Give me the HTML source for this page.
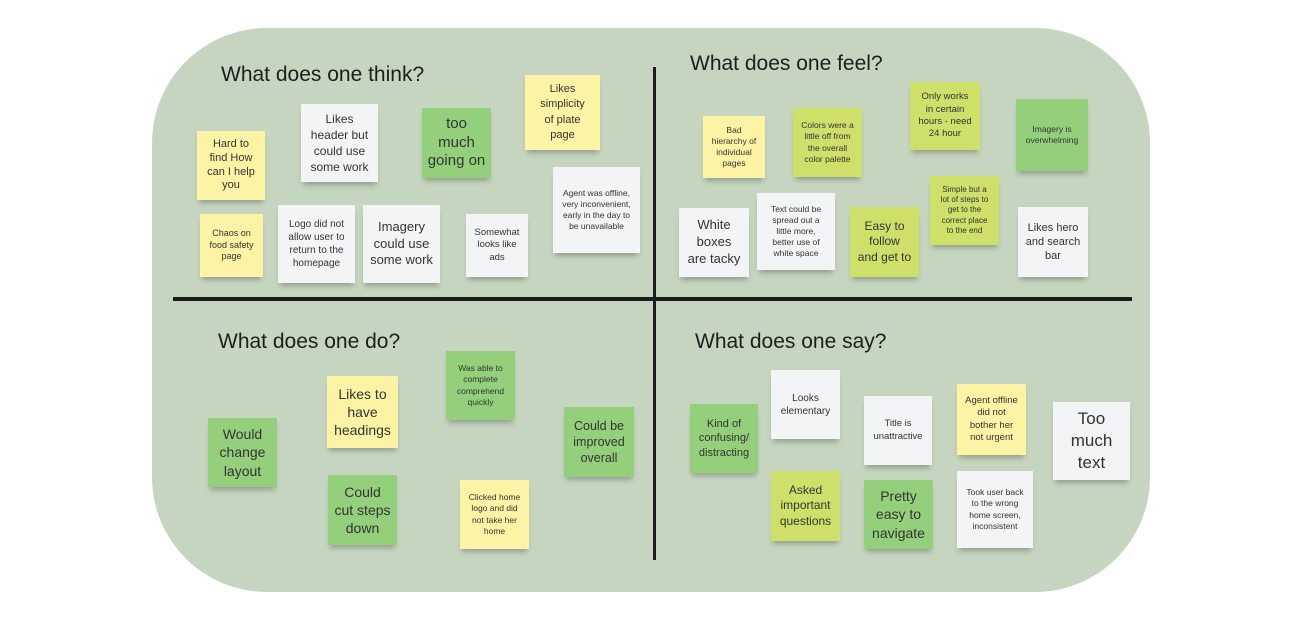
<!DOCTYPE html>
<html><head><meta charset="utf-8"><style>
body{margin:0;width:1300px;height:626px;background:#fff;position:relative;overflow:hidden;font-family:"Liberation Sans",sans-serif}
.bg{position:absolute;left:152px;top:28px;width:998px;height:564px;background:#c5d5bf;border-radius:115px}
.h{position:absolute;height:4px;background:#1c1c1c}
.v{position:absolute;width:3px;background:#1c1c1c}
.t{position:absolute;font-size:21px;color:#1e1e1e}
.s{position:absolute;display:flex;align-items:center;justify-content:center;text-align:center;color:#333;box-shadow:0 5px 5px -2px rgba(0,0,0,.25);line-height:1.3;box-sizing:border-box;padding:2px;white-space:nowrap}
.y{background:#fcf4a4}.w{background:#f3f4f6}.g{background:#94d07c}.l{background:#cee06a}
.L{font-size:14px}.M{font-size:11px}.S{font-size:8.5px}
</style></head><body>
<div class="bg"></div>
<div class="h" style="left:173px;top:297px;width:959px"></div>
<div class="v" style="left:653px;top:67px;height:493px"></div>
<div class="t" style="left:221px;top:63px">What does one think?</div>
<div class="t" style="left:690px;top:52px">What does one feel?</div>
<div class="t" style="left:218px;top:330px">What does one do?</div>
<div class="t" style="left:695px;top:330px">What does one say?</div>

<div class="s y M" style="left:197px;top:131px;width:68px;height:69px;line-height:1.25">Hard to<br>find How<br>can I help<br>you</div>
<div class="s w M" style="left:301px;top:104px;width:77px;height:78px;font-size:12px;line-height:1.35">Likes<br>header but<br>could use<br>some work</div>
<div class="s g L" style="left:422px;top:108px;width:69px;height:70px;font-size:15px;line-height:1.25">too<br>much<br>going on</div>
<div class="s y M" style="left:525px;top:75px;width:75px;height:75px;line-height:1.4">Likes<br>simplicity<br>of plate<br>page</div>
<div class="s w S" style="left:553px;top:167px;width:87px;height:86px">Agent was offline,<br>very inconvenient,<br>early in the day to<br>be unavailable</div>
<div class="s y S" style="left:200px;top:214px;width:63px;height:63px;font-size:9px">Chaos on<br>food safety<br>page</div>
<div class="s w S" style="left:278px;top:205px;width:77px;height:78px;font-size:10px">Logo did not<br>allow user to<br>return to the<br>homepage</div>
<div class="s w M" style="left:363px;top:205px;width:77px;height:78px;font-size:13px">Imagery<br>could use<br>some work</div>
<div class="s w S" style="left:466px;top:214px;width:62px;height:63px;font-size:9.5px">Somewhat<br>looks like<br>ads</div>

<div class="s y S" style="left:703px;top:116px;width:62px;height:62px">Bad<br>hierarchy of<br>individual<br>pages</div>
<div class="s l S" style="left:793px;top:108px;width:69px;height:69px">Colors were a<br>little off from<br>the overall<br>color palette</div>
<div class="s l S" style="left:910px;top:82px;width:70px;height:68px;font-size:9.5px">Only works<br>in certain<br>hours - need<br>24 hour</div>
<div class="s g S" style="left:1016px;top:99px;width:72px;height:72px">Imagery is<br>overwhelming</div>
<div class="s w L" style="left:679px;top:208px;width:70px;height:69px;font-size:13px">White<br>boxes<br>are tacky</div>
<div class="s w S" style="left:757px;top:193px;width:78px;height:77px">Text could be<br>spread out a<br>little more,<br>better use of<br>white space</div>
<div class="s l M" style="left:850px;top:207px;width:69px;height:70px;font-size:12px">Easy to<br>follow<br>and get to</div>
<div class="s l S" style="left:930px;top:176px;width:69px;height:69px;font-size:8px">Simple but a<br>lot of steps to<br>get to the<br>correct place<br>to the end</div>
<div class="s w M" style="left:1018px;top:207px;width:70px;height:70px">Likes hero<br>and search<br>bar</div>

<div class="s g L" style="left:208px;top:418px;width:69px;height:69px">Would<br>change<br>layout</div>
<div class="s y L" style="left:327px;top:376px;width:71px;height:72px">Likes to<br>have<br>headings</div>
<div class="s g S" style="left:446px;top:351px;width:69px;height:69px">Was able to<br>complete<br>comprehend<br>quickly</div>
<div class="s g L" style="left:328px;top:475px;width:69px;height:70px">Could<br>cut steps<br>down</div>
<div class="s y S" style="left:460px;top:480px;width:69px;height:69px">Clicked home<br>logo and did<br>not take her<br>home</div>
<div class="s g M" style="left:564px;top:407px;width:70px;height:70px;font-size:12.5px">Could be<br>improved<br>overall</div>

<div class="s g M" style="left:690px;top:404px;width:68px;height:69px">Kind of<br>confusing/<br>distracting</div>
<div class="s w S" style="left:771px;top:370px;width:69px;height:69px;font-size:10px">Looks<br>elementary</div>
<div class="s w S" style="left:864px;top:396px;width:68px;height:69px;font-size:9.5px">Title is<br>unattractive</div>
<div class="s y S" style="left:957px;top:384px;width:69px;height:71px;font-size:9.5px">Agent offline<br>did not<br>bother her<br>not urgent</div>
<div class="s w L" style="left:1053px;top:402px;width:77px;height:78px;font-size:17px">Too<br>much<br>text</div>
<div class="s l M" style="left:771px;top:471px;width:69px;height:70px;font-size:12px">Asked<br>important<br>questions</div>
<div class="s g L" style="left:864px;top:480px;width:69px;height:69px">Pretty<br>easy to<br>navigate</div>
<div class="s w S" style="left:957px;top:471px;width:76px;height:77px">Took user back<br>to the wrong<br>home screen,<br>inconsistent</div>
</body></html>
